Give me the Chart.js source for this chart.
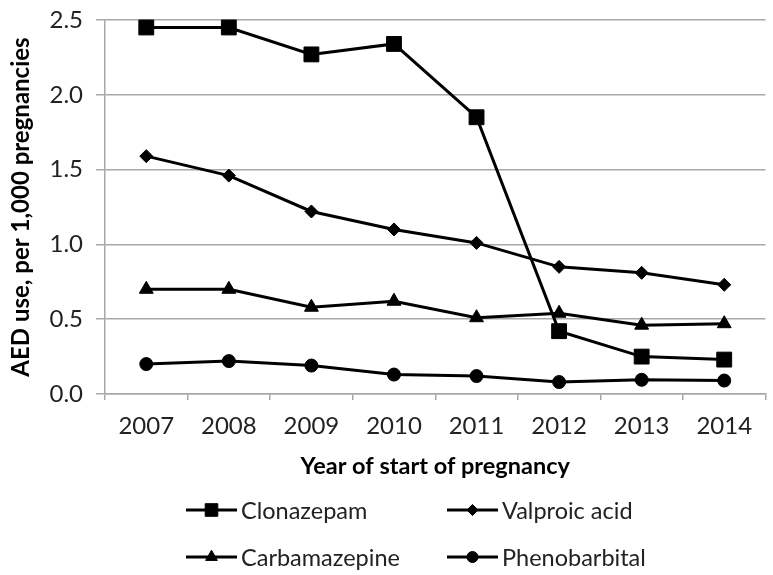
<!DOCTYPE html>
<html>
<head>
<meta charset="utf-8">
<script src="https://cdn.jsdelivr.net/npm/chart.js@4/dist/chart.umd.min.js"></script>
<style>
  html, body { margin: 0; padding: 0; background: #ffffff; overflow: hidden; }
  #wrap { width: 777px; height: 575px; }
</style>
</head>
<body>
<div id="wrap"><canvas id="c" width="777" height="575"></canvas></div>
<script>
// ---- data ----
const years = ['2007', '2008', '2009', '2010', '2011', '2012', '2013', '2014'];
const clonazepam    = [2.45, 2.45, 2.27, 2.34, 1.85, 0.42, 0.25, 0.23];
const valproicAcid  = [1.59, 1.46, 1.22, 1.10, 1.01, 0.85, 0.81, 0.73];
const carbamazepine = [0.70, 0.70, 0.58, 0.62, 0.51, 0.54, 0.46, 0.47];
const phenobarbital = [0.20, 0.22, 0.19, 0.13, 0.12, 0.08, 0.095, 0.09];
const seriesNames = ['Clonazepam', 'Valproic acid', 'Carbamazepine', 'Phenobarbital'];
const yTicks = [0, 0.5, 1.0, 1.5, 2.0, 2.5];
const yTitle = 'AED use, per 1,000 pregnancies';
const xTitle = 'Year of start of pregnancy';

const FONT = 'Lato, "Liberation Sans", sans-serif';
const GRID = '#a8a8a8';

function ds(label, data, style, radius) {
  return {
    label, data,
    borderColor: '#000', backgroundColor: '#000',
    borderWidth: 3, tension: 0,
    pointStyle: style, pointRadius: radius, pointHoverRadius: radius,
    pointBorderWidth: 1, pointBackgroundColor: '#000', pointBorderColor: '#000',
    clip: false
  };
}

// legend slots: [lineStartX, centerY]
const legendSlots = [[186, 510], [447, 510], [186, 557], [447, 557]];

const legendPlugin = {
  id: 'customLegend',
  afterDraw(chart) {
    const ctx = chart.ctx;
    ctx.save();
    chart.data.datasets.forEach((d, i) => {
      const [x0, y] = legendSlots[i];
      const len = 51;
      ctx.strokeStyle = '#000';
      ctx.lineWidth = 3;
      ctx.beginPath();
      ctx.moveTo(x0, y);
      ctx.lineTo(x0 + len, y);
      ctx.stroke();
      ctx.fillStyle = '#000';
      ctx.strokeStyle = '#000';
      ctx.lineWidth = 1;
      Chart.helpers.drawPoint(ctx, {
        pointStyle: d.pointStyle,
        radius: d.pointRadius * 0.85,
        rotation: 0,
        borderWidth: 1
      }, x0 + len / 2, y);
      ctx.fillStyle = '#222';
      ctx.font = '23.5px ' + FONT;
      ctx.textBaseline = 'middle';
      ctx.textAlign = 'left';
      ctx.fillText(d.label, x0 + len + 4, y + 1);
    });
    ctx.restore();
  }
};

new Chart(document.getElementById('c'), {
  type: 'line',
  data: {
    labels: years,
    datasets: [
      ds(seriesNames[0], clonazepam, 'rect', 10.5),
      ds(seriesNames[1], valproicAcid, 'rectRot', 6.5),
      ds(seriesNames[2], carbamazepine, 'triangle', 8),
      ds(seriesNames[3], phenobarbital, 'circle', 6.5)
    ]
  },
  options: {
    responsive: false,
    animation: false,
    devicePixelRatio: 1,
    layout: { padding: { top: 20, left: 0, right: 0, bottom: 0 } },
    plugins: { legend: { display: false }, tooltip: { enabled: false } },
    scales: {
      x: {
        type: 'category',
        offset: true,
        grid: { offset: true, drawOnChartArea: false, drawTicks: true, tickLength: 6, color: GRID, lineWidth: 1.5 },
        border: { color: GRID, width: 1.5 },
        ticks: { color: '#222', font: { family: FONT, size: 24 }, padding: 12, maxRotation: 0 },
        title: { display: true, text: xTitle, color: '#000', font: { family: FONT, size: 23.5, weight: 'bold' }, padding: { top: 0, bottom: 94 } },
        afterFit(scale) { scale.height = 181; scale.paddingLeft = 0; scale.paddingRight = 0; }
      },
      y: {
        min: 0, max: 2.5,
        afterBuildTicks(scale) { scale.ticks = yTicks.map(v => ({ value: v })); },
        grid: { color: GRID, lineWidth: 1.5, drawTicks: true, tickLength: 9 },
        border: { color: GRID, width: 1.5 },
        ticks: { color: '#222', font: { family: FONT, size: 24 }, padding: 13, callback: v => Number(v).toFixed(1) },
        title: { display: true, text: yTitle, color: '#000', font: { family: FONT, size: 24, weight: 'bold' }, padding: { top: 7, bottom: 0 } },
        afterFit(scale) { scale.width = 105; scale.paddingTop = 0; scale.paddingBottom = 0; }
      }
    }
  },
  plugins: [legendPlugin]
});
</script>
</body>
</html>
